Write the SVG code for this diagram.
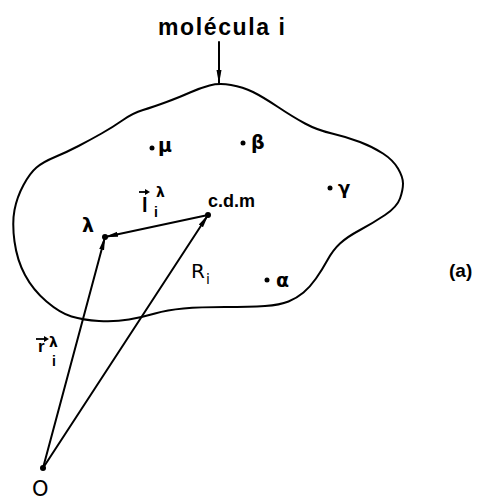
<svg xmlns="http://www.w3.org/2000/svg" width="484" height="501" viewBox="0 0 484 501">
<style>
.ln{fill:none;stroke:#000;stroke-width:2;stroke-linecap:round;stroke-linejoin:round}
.t{font-family:"Liberation Sans","DejaVu Sans",sans-serif;font-weight:bold;fill:#000}
.g{font-family:"DejaVu Sans","Liberation Sans",sans-serif;fill:#000}
</style>
<defs>
<marker id="ah" viewBox="0 0 14 7" refX="13" refY="3.5" markerWidth="14" markerHeight="7" markerUnits="userSpaceOnUse" orient="auto">
<path d="M0 1 L14 3.5 L0 6 Z" fill="#000"/>
</marker>
</defs>
<rect width="484" height="501" fill="#fff"/>
<g id="outline">
<path class="ln" stroke-width="2.2" d="M 231 85 Q 243 87 253 92 Q 263 97 278 107 Q 293 117 305 123.5 Q 317 130 332 133.5 Q 347 137 360 142 Q 373 147 383 153.5 Q 393 160 398 168.5 Q 403 177 403 183.5 Q 403 190 400 198.5 Q 397 207 385 215 Q 373 223 360 230 Q 347 237 340 243.5 Q 333 250 327.5 260 Q 322 270 316 278.5 Q 310 287 303.5 292.5 Q 297 298 288.5 301.5 Q 280 305 265 306 Q 250 307 225 307 Q 200 307 183.5 308.5 Q 167 310 155 313.5 Q 143 317 129 319.5 Q 115 322 99 321 Q 83 320 71.5 316.5 Q 60 313 46.5 301.5 Q 33 290 25 275 Q 17 260 14.5 241.5 Q 12 223 14.5 210 Q 17 197 23.5 185 Q 30 173 36.5 167.5 Q 43 162 55 157 Q 67 152 78.5 146 Q 90 140 101.5 133.5 Q 113 127 123 120 Q 133 113 143 110 Q 153 107 166.5 102 Q 180 97 190 92.5 Q 200 88 209.5 85.5 Q 219 83 231 85 Z"/>
</g>
<g id="connectors">
<line class="ln" x1="219" y1="42" x2="219" y2="83" marker-end="url(#ah)"/>
<line class="ln" x1="43" y1="468" x2="105" y2="237" marker-end="url(#ah)"/>
<line class="ln" x1="43" y1="468" x2="208" y2="215" marker-end="url(#ah)"/>
<line class="ln" x1="208" y1="215" x2="105" y2="237" marker-end="url(#ah)"/>
</g>
<g id="title"><text class="t" x="158" y="35" font-size="23" textLength="127">molécula i</text></g>
<g id="mu"><circle cx="152" cy="148" r="2.5"/><text class="g" x="158" y="152" font-size="19" font-weight="bold">μ</text></g>
<g id="beta"><circle cx="243" cy="143" r="2.5"/><text class="g" x="251" y="149" font-size="19" font-weight="bold">β</text></g>
<g id="gamma"><circle cx="330" cy="188" r="2.5"/><text class="g" x="338" y="194" font-size="18" font-weight="bold">γ</text></g>
<g id="alpha"><circle cx="267" cy="280" r="2.5"/><text class="g" x="276" y="287" font-size="19" font-weight="bold">α</text></g>
<g id="lambda"><circle cx="105" cy="237" r="3"/><text class="g" x="82" y="232" font-size="19" font-weight="bold">λ</text></g>
<g id="cdm"><circle cx="208" cy="215" r="3"/><text class="t" x="208" y="207" font-size="18">c.d.m</text></g>
<g id="O"><circle cx="43" cy="468" r="3"/><text class="g" x="32" y="496" font-size="21">O</text></g>
<g id="l-label">
<line x1="139" y1="192" x2="148" y2="192" stroke="#000" stroke-width="1.8"/>
<path d="M145 189 L150 192 L145 195 Z" fill="#000"/>
<text class="t" x="142" y="212" font-size="20">l</text>
<text class="g" x="156" y="197" font-size="14" font-weight="bold">λ</text>
<text class="t" x="154" y="217" font-size="14">i</text>
</g>
<g id="R-label">
<text class="g" x="191" y="278" font-size="20">R</text>
<text class="g" x="206" y="284" font-size="14">i</text>
</g>
<g id="r-label">
<line x1="36" y1="339" x2="47" y2="339" stroke="#000" stroke-width="1.8"/>
<path d="M44 336 L49 339 L44 342 Z" fill="#000"/>
<text class="t" x="38" y="352" font-size="17">r</text>
<text class="g" x="49" y="347" font-size="14" font-weight="bold">λ</text>
<text class="t" x="52" y="366" font-size="14">i</text>
</g>
<g id="a-label"><text class="t" x="449" y="277" font-size="19">(a)</text></g>
</svg>
